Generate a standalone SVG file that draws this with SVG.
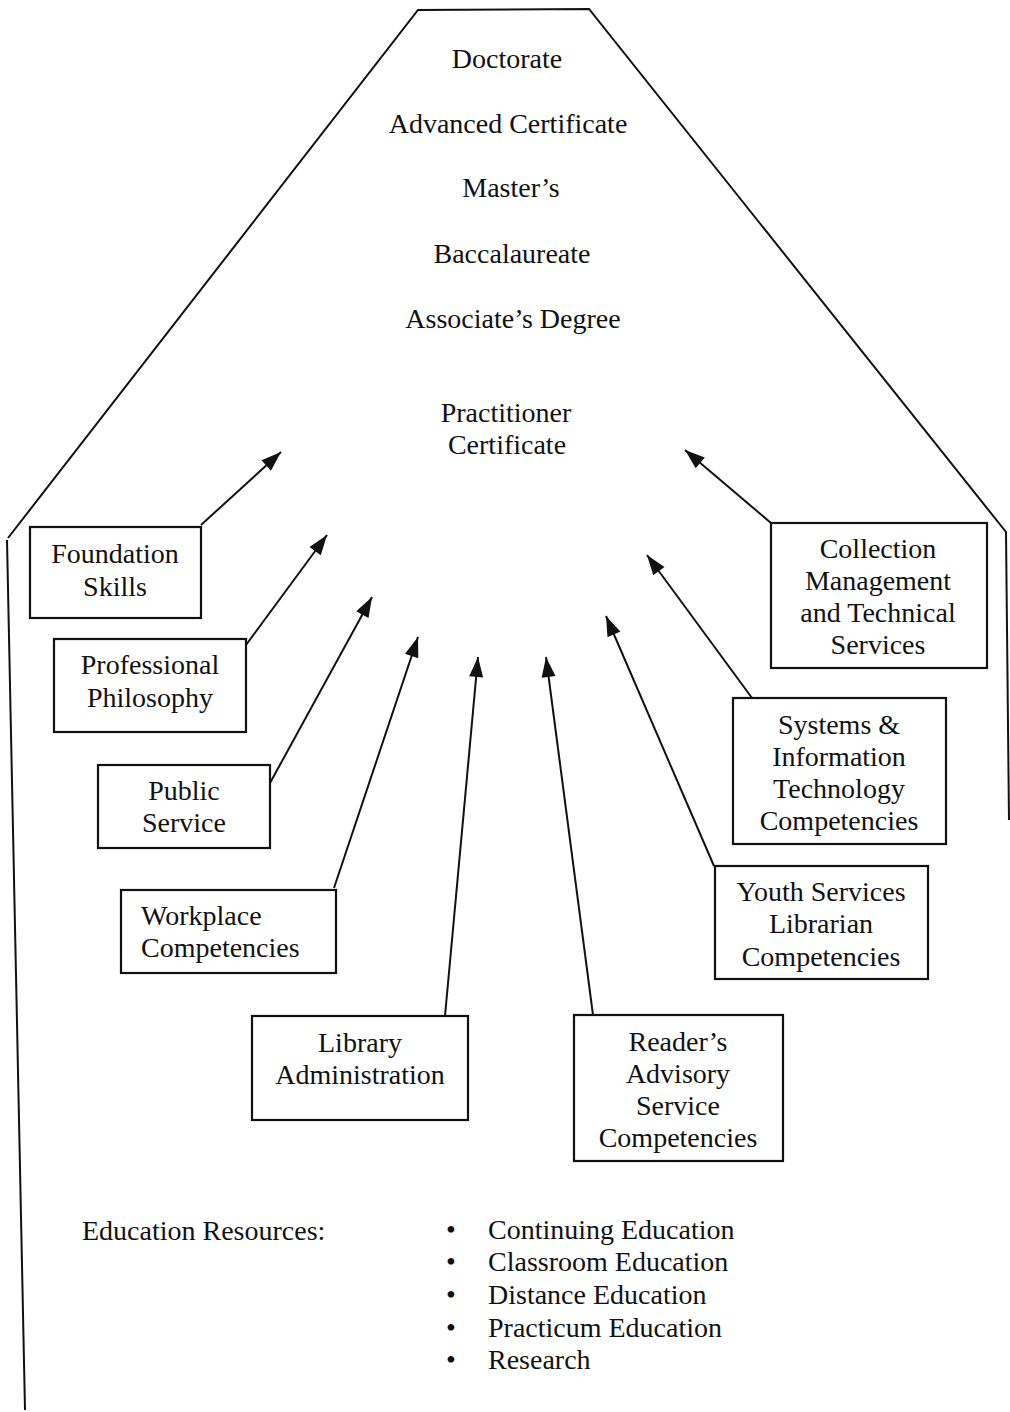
<svg xmlns="http://www.w3.org/2000/svg" width="1010" height="1412" viewBox="0 0 1010 1412">
<style>
text{font-family:"Liberation Serif","Times New Roman",serif;font-size:28px;fill:#111}
.c{text-anchor:middle}
.box{fill:none;stroke:#111;stroke-width:2.2}
.ln{fill:none;stroke:#111;stroke-width:2}
.ar{fill:none;stroke:#111;stroke-width:2;marker-end:url(#ah)}
</style>
<defs>
<marker id="ah" viewBox="0 0 10 10" refX="10" refY="5" markerWidth="10" markerHeight="10" markerUnits="userSpaceOnUse" orient="auto" overflow="visible">
<path d="M-10,-2 L10,5 L-10,12 Z" fill="#111"/>
</marker>
</defs>
<g id="outline">
<path class="ln" d="M8,538 L418,10 L589,9 L1006,532 L1009,820"/>
<path class="ln" d="M7,540 L25,1410"/>
</g>
<g id="levels">
<text class="c" x="507" y="68">Doctorate</text>
<text class="c" x="508" y="133">Advanced Certificate</text>
<text class="c" x="511" y="197">Master’s</text>
<text class="c" x="512" y="263">Baccalaureate</text>
<text class="c" x="513" y="328">Associate’s Degree</text>
<text class="c" x="506" y="422">Practitioner</text>
<text class="c" x="507" y="454">Certificate</text>
</g>
<g id="connectors">
<line class="ar" x1="201" y1="525" x2="281" y2="452"/>
<line class="ar" x1="246" y1="645" x2="327" y2="535"/>
<line class="ar" x1="270" y1="783" x2="372" y2="597"/>
<line class="ar" x1="334" y1="888" x2="418" y2="637"/>
<line class="ar" x1="445" y1="1016" x2="478" y2="657"/>
<line class="ar" x1="593" y1="1015" x2="546" y2="657"/>
<line class="ar" x1="714" y1="866" x2="606" y2="616"/>
<line class="ar" x1="752" y1="698" x2="647" y2="555"/>
<line class="ar" x1="771" y1="523" x2="685" y2="450"/>
</g>
<g id="foundation">
<rect class="box" x="30" y="527" width="171" height="91"/>
<text class="c" x="115" y="563">Foundation</text>
<text class="c" x="115" y="596">Skills</text>
</g>
<g id="professional">
<rect class="box" x="54" y="639" width="192" height="93"/>
<text class="c" x="150" y="674">Professional</text>
<text class="c" x="150" y="707">Philosophy</text>
</g>
<g id="public">
<rect class="box" x="98" y="765" width="172" height="83"/>
<text class="c" x="184" y="800">Public</text>
<text class="c" x="184" y="832">Service</text>
</g>
<g id="workplace">
<rect class="box" x="121" y="890" width="215" height="83"/>
<text x="141" y="925">Workplace</text>
<text x="141" y="957">Competencies</text>
</g>
<g id="library">
<rect class="box" x="252" y="1016" width="216" height="104"/>
<text class="c" x="360" y="1052">Library</text>
<text class="c" x="360" y="1084">Administration</text>
</g>
<g id="readers">
<rect class="box" x="574" y="1015" width="209" height="146"/>
<text class="c" x="678" y="1051">Reader’s</text>
<text class="c" x="678" y="1083">Advisory</text>
<text class="c" x="678" y="1115">Service</text>
<text class="c" x="678" y="1147">Competencies</text>
</g>
<g id="youth">
<rect class="box" x="715" y="866" width="213" height="113"/>
<text class="c" x="821" y="901">Youth Services</text>
<text class="c" x="821" y="933">Librarian</text>
<text class="c" x="821" y="966">Competencies</text>
</g>
<g id="systems">
<rect class="box" x="733" y="698" width="213" height="146"/>
<text class="c" x="839" y="734">Systems &amp;</text>
<text class="c" x="839" y="766">Information</text>
<text class="c" x="839" y="798">Technology</text>
<text class="c" x="839" y="830">Competencies</text>
</g>
<g id="collection">
<rect class="box" x="771" y="523" width="216" height="145"/>
<text class="c" x="878" y="558">Collection</text>
<text class="c" x="878" y="590">Management</text>
<text class="c" x="878" y="622">and Technical</text>
<text class="c" x="878" y="654">Services</text>
</g>
<g id="resources">
<text x="82" y="1240">Education Resources:</text>
<text x="446" y="1239">•</text>
<text x="446" y="1271">•</text>
<text x="446" y="1304">•</text>
<text x="446" y="1337">•</text>
<text x="446" y="1369">•</text>
<text x="488" y="1239">Continuing Education</text>
<text x="488" y="1271">Classroom Education</text>
<text x="488" y="1304">Distance Education</text>
<text x="488" y="1337">Practicum Education</text>
<text x="488" y="1369">Research</text>
</g>
</svg>
